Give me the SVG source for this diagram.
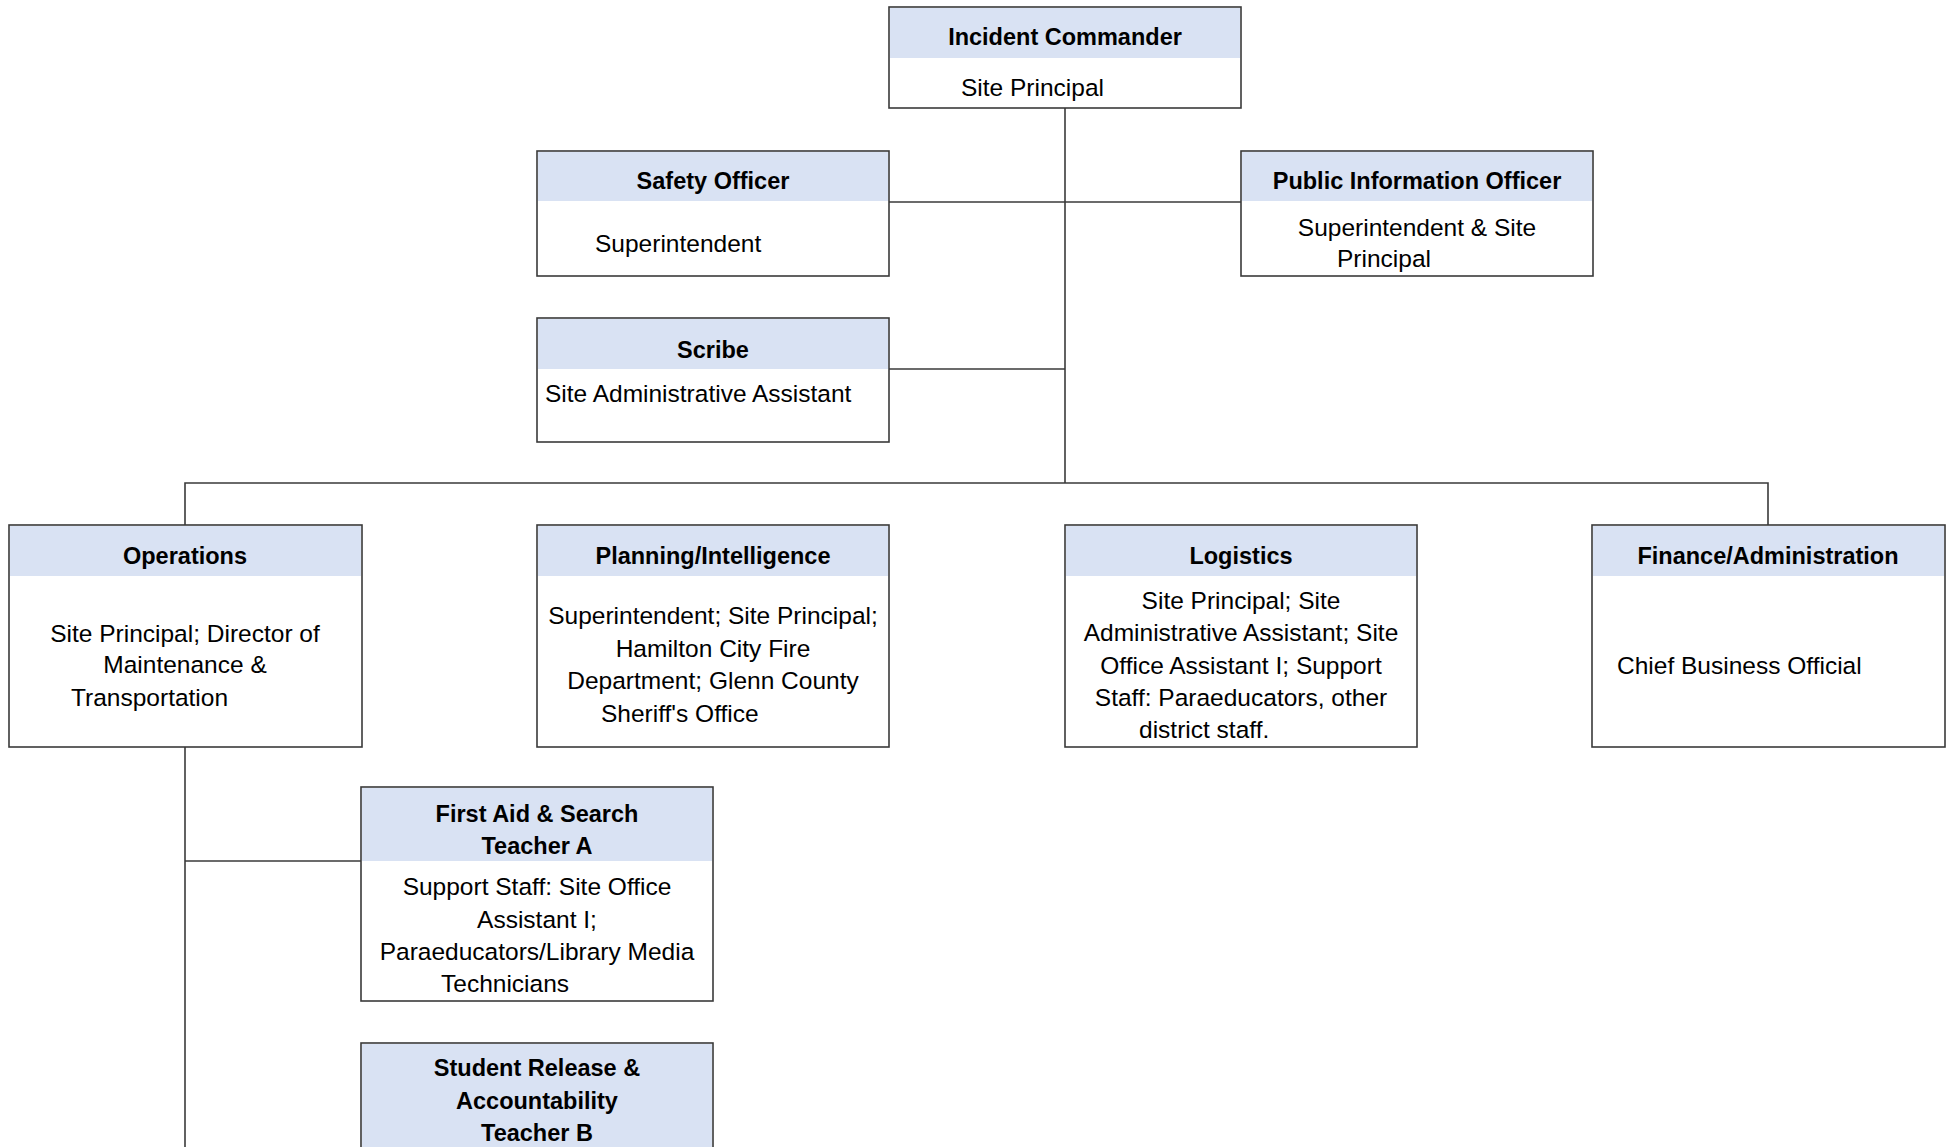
<svg xmlns="http://www.w3.org/2000/svg" width="1949" height="1147" viewBox="0 0 1949 1147">
<style>
.box{fill:#ffffff;stroke:#3a3a3a;stroke-width:1.6}
.hdr{fill:#d9e2f3}
.t{font-family:"Liberation Sans",Arial,sans-serif;font-size:23.5px;font-weight:bold;fill:#000;text-anchor:middle}
.b{font-family:"Liberation Sans",Arial,sans-serif;font-size:24.5px;fill:#000}
.c{text-anchor:middle}
.ln{stroke:#3a3a3a;stroke-width:1.6;fill:none}
</style>
<rect width="1949" height="1147" fill="#ffffff"/>
<g id="connectors">
<path class="ln" d="M1065 108 V483"/>
<path class="ln" d="M889 202 H1241"/>
<path class="ln" d="M889 369 H1065"/>
<path class="ln" d="M185 525 V483 H1768 V525"/>
<path class="ln" d="M185 747 V1147"/>
<path class="ln" d="M185 861 H361"/>
</g>
<g id="incident-commander">
<rect class="box" x="889" y="7" width="352" height="101"/>
<rect class="hdr" x="890" y="8" width="350" height="50"/>
<text class="t" x="1065" y="45">Incident Commander</text>
<text class="b" x="961" y="96">Site Principal</text>
</g>
<g id="safety-officer">
<rect class="box" x="537" y="151" width="352" height="125"/>
<rect class="hdr" x="538" y="152" width="350" height="49"/>
<text class="t" x="713" y="189">Safety Officer</text>
<text class="b" x="595" y="252">Superintendent</text>
</g>
<g id="public-information-officer">
<rect class="box" x="1241" y="151" width="352" height="125"/>
<rect class="hdr" x="1242" y="152" width="350" height="49"/>
<text class="t" x="1417" y="189">Public Information Officer</text>
<text class="b c" x="1417" y="236">Superintendent &amp; Site</text>
<text class="b" x="1337" y="267">Principal</text>
</g>
<g id="scribe">
<rect class="box" x="537" y="318" width="352" height="124"/>
<rect class="hdr" x="538" y="319" width="350" height="50"/>
<text class="t" x="713" y="358">Scribe</text>
<text class="b" x="545" y="402">Site Administrative Assistant</text>
</g>
<g id="operations">
<rect class="box" x="9" y="525" width="353" height="222"/>
<rect class="hdr" x="10" y="526" width="351" height="50"/>
<text class="t" x="185" y="564">Operations</text>
<text class="b c" x="185" y="642">Site Principal; Director of</text>
<text class="b c" x="185" y="673">Maintenance &amp;</text>
<text class="b" x="71" y="706">Transportation</text>
</g>
<g id="planning-intelligence">
<rect class="box" x="537" y="525" width="352" height="222"/>
<rect class="hdr" x="538" y="526" width="350" height="50"/>
<text class="t" x="713" y="564">Planning/Intelligence</text>
<text class="b c" x="713" y="624">Superintendent; Site Principal;</text>
<text class="b c" x="713" y="657">Hamilton City Fire</text>
<text class="b c" x="713" y="689">Department; Glenn County</text>
<text class="b" x="601" y="722">Sheriff's Office</text>
</g>
<g id="logistics">
<rect class="box" x="1065" y="525" width="352" height="222"/>
<rect class="hdr" x="1066" y="526" width="350" height="50"/>
<text class="t" x="1241" y="564">Logistics</text>
<text class="b c" x="1241" y="609">Site Principal; Site</text>
<text class="b c" x="1241" y="641">Administrative Assistant; Site</text>
<text class="b c" x="1241" y="674">Office Assistant I; Support</text>
<text class="b c" x="1241" y="706">Staff: Paraeducators, other</text>
<text class="b" x="1139" y="738">district staff.</text>
</g>
<g id="finance-administration">
<rect class="box" x="1592" y="525" width="353" height="222"/>
<rect class="hdr" x="1593" y="526" width="351" height="50"/>
<text class="t" x="1768" y="564">Finance/Administration</text>
<text class="b" x="1617" y="674">Chief Business Official</text>
</g>
<g id="first-aid-search">
<rect class="box" x="361" y="787" width="352" height="214"/>
<rect class="hdr" x="362" y="788" width="350" height="73"/>
<text class="t" x="537" y="822">First Aid &amp; Search</text>
<text class="t" x="537" y="854">Teacher A</text>
<text class="b c" x="537" y="895">Support Staff: Site Office</text>
<text class="b c" x="537" y="928">Assistant I;</text>
<text class="b c" x="537" y="960">Paraeducators/Library Media</text>
<text class="b" x="441" y="992">Technicians</text>
</g>
<g id="student-release">
<rect class="box" x="361" y="1043" width="352" height="120"/>
<rect class="hdr" x="362" y="1044" width="350" height="110"/>
<text class="t" x="537" y="1076">Student Release &amp;</text>
<text class="t" x="537" y="1109">Accountability</text>
<text class="t" x="537" y="1141">Teacher B</text>
</g>
</svg>
